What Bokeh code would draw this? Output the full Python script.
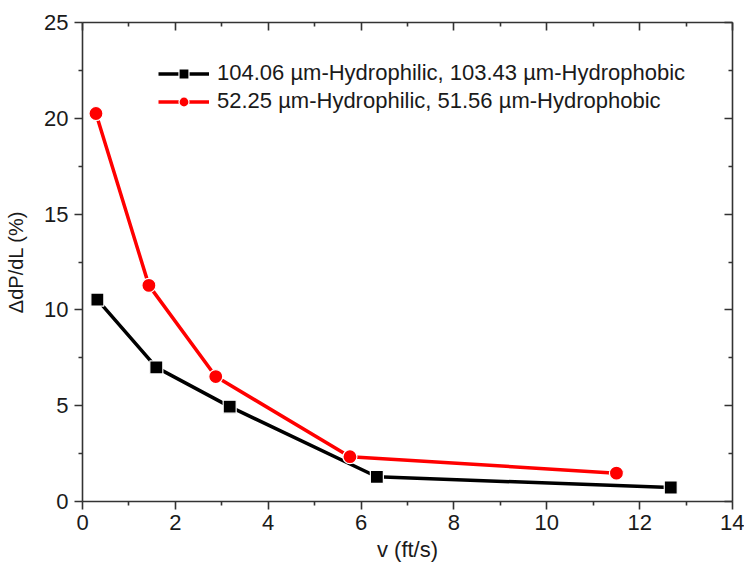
from bokeh.plotting import figure
from bokeh.models import Range1d, LinearAxis, Legend, LegendItem, FixedTicker
from bokeh.embed import file_html
from bokeh.resources import INLINE

# Data
v_black = [0.32, 1.59, 3.17, 6.34, 12.67]
dp_black = [10.54, 7.00, 4.95, 1.29, 0.73]
v_red = [0.29, 1.43, 2.87, 5.76, 11.50]
dp_red = [20.25, 11.28, 6.52, 2.34, 1.48]
label_black = "104.06 µm-Hydrophilic, 103.43 µm-Hydrophobic"
label_red = "52.25 µm-Hydrophilic, 51.56 µm-Hydrophobic"
x_ticks = [0, 2, 4, 6, 8, 10, 12, 14]
y_ticks = [0, 5, 10, 15, 20, 25]

FONT = "Liberation Sans"

p = figure(width=744, height=566, output_backend="svg", toolbar_location=None,
           x_range=Range1d(0, 14), y_range=Range1d(0, 25),
           min_border_left=82, min_border_right=12, min_border_top=22, min_border_bottom=65)
p.outline_line_color = None
p.grid.visible = False
p.background_fill_color = "white"
p.border_fill_color = "white"

for ax, ticks in ((p.xaxis[0], x_ticks), (p.yaxis[0], y_ticks)):
    ax.ticker = FixedTicker(ticks=ticks, minor_ticks=[t + (ticks[1] - ticks[0]) / 2 for t in ticks[:-1]])
    ax.axis_line_width = 1.6
    ax.axis_line_color = "#333333"
    ax.major_tick_line_color = "#333333"
    ax.minor_tick_line_color = "#333333"
    ax.major_tick_line_width = 1.6
    ax.minor_tick_line_width = 1.6
    ax.major_tick_out = 8
    ax.major_tick_in = 0
    ax.minor_tick_out = 4
    ax.minor_tick_in = 0
    ax.major_label_text_font = FONT
    ax.major_label_text_font_size = "22px"
    ax.major_label_text_color = "#1a1a1a"
    ax.axis_label_text_font = FONT
    ax.axis_label_text_font_size = "22px"
    ax.axis_label_text_font_style = "normal"
    ax.axis_label_text_color = "#1a1a1a"

p.xaxis[0].axis_label = "v (ft/s)"
p.xaxis[0].axis_label_standoff = 4
p.xaxis[0].major_label_standoff = 5
p.yaxis[0].axis_label = "ΔdP/dL (%)"
p.yaxis[0].axis_label_text_font_size = "20px"
p.yaxis[0].axis_label_standoff = 14
p.yaxis[0].major_label_standoff = 6

# mirrored axes (top/right) with inward ticks, no labels
top = LinearAxis(ticker=FixedTicker(ticks=x_ticks, minor_ticks=[t + 1 for t in x_ticks[:-1]]))
right = LinearAxis(ticker=FixedTicker(ticks=y_ticks, minor_ticks=[t + 2.5 for t in y_ticks[:-1]]))
for ax in (top, right):
    ax.major_label_text_font_size = "0px"
    ax.major_label_text_color = None
    ax.axis_line_width = 1.6
    ax.axis_line_color = "#333333"
    ax.major_tick_line_color = "#333333"
    ax.minor_tick_line_color = "#333333"
    ax.major_tick_line_width = 1.6
    ax.minor_tick_line_width = 1.6
    ax.major_tick_out = 0
    ax.major_tick_in = 8
    ax.minor_tick_out = 0
    ax.minor_tick_in = 4
p.add_layout(top, "above")
p.add_layout(right, "right")

lb = p.line(v_black, dp_black, line_color="black", line_width=3.5)
sb = p.scatter(v_black, dp_black, marker="square", size=13, fill_color="black",
               line_color="white", line_width=1.2)
lr = p.line(v_red, dp_red, line_color="#ff0000", line_width=3.5)
sr = p.scatter(v_red, dp_red, marker="circle", size=14, fill_color="#ff0000",
               line_color="white", line_width=1.2)

legend = Legend(items=[LegendItem(label=label_black, renderers=[lb, sb]),
                       LegendItem(label=label_red, renderers=[lr, sr])],
                location=(76, 387))
legend.border_line_color = None
legend.background_fill_alpha = 0
legend.label_text_font = FONT
legend.label_text_font_size = "22px"
legend.label_text_color = "#1a1a1a"
legend.glyph_width = 51
legend.glyph_height = 25
legend.label_height = 25
legend.label_standoff = 8
legend.spacing = 2
legend.padding = 4
legend.margin = 0
p.add_layout(legend, "center")

open("out.html", "w").write(file_html(p, INLINE))
